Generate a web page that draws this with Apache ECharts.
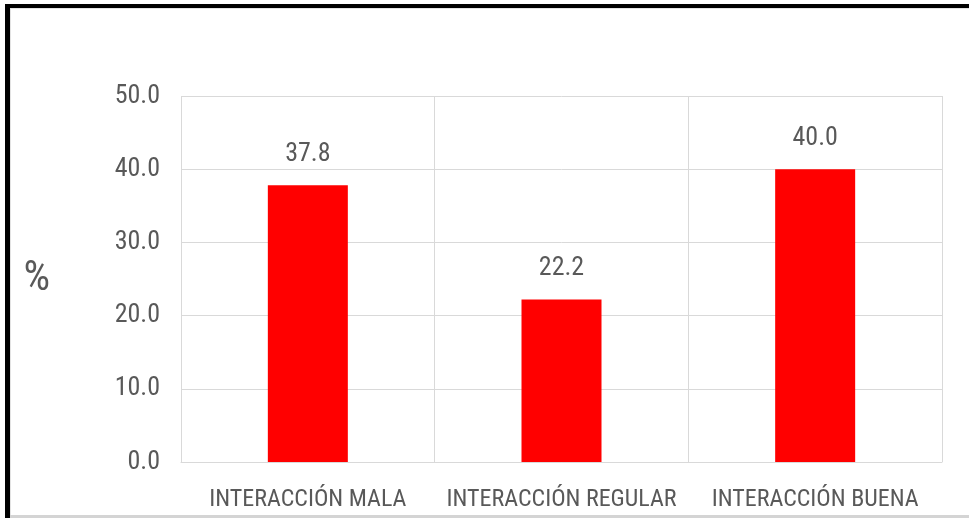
<!DOCTYPE html>
<html>
<head>
<meta charset="utf-8">
<script src="https://cdn.jsdelivr.net/npm/echarts@6/dist/echarts.min.js"></script>
<style>
    html, body { margin: 0; padding: 0; background: #fff; }
    #chart { width: 969px; height: 520px; }
</style>
</head>
<body>
<div id="chart"></div>
<script>
var categorias = ['INTERACCIÓN MALA', 'INTERACCIÓN REGULAR', 'INTERACCIÓN BUENA']; //categorias
var porcentajes = [37.8, 22.2, 40.0]; //valores %
var yMin = 0, yMax = 50, yPaso = 10; //eje y

var fuente = '"Liberation Sans Narrow", "Roboto Condensed", "Liberation Sans", sans-serif';
var gris = '#595959';
var rejilla = '#d9d9d9';

var myChart = echarts.init(document.getElementById('chart'));

var option = {
    backgroundColor: '#fff',
    animation: false,
    grid: {
        left: 181,
        right: 27,
        top: 96,
        bottom: 58
    },
    //marco de la imagen
    graphic: [
        { type: 'rect', shape: { x: 10, y: 8, width: 959, height: 1 }, style: { fill: '#e3e3e3' } },
        { type: 'rect', shape: { x: 10, y: 8, width: 1, height: 507 }, style: { fill: '#e3e3e3' } },
        { type: 'rect', shape: { x: 5, y: 4, width: 964, height: 4 }, style: { fill: '#000' } },
        { type: 'rect', shape: { x: 5, y: 4, width: 5, height: 514 }, style: { fill: '#000' } },
        { type: 'rect', shape: { x: 10, y: 515, width: 959, height: 3 }, style: { fill: '#d4d4d4' } }
    ],
    xAxis: {
        type: 'category',
        data: categorias,
        axisLine: { lineStyle: { color: rejilla, width: 1 } },
        axisTick: { show: false },
        splitLine: { show: true, lineStyle: { color: rejilla, width: 1 } },
        axisLabel: {
            color: gris,
            fontFamily: fuente,
            fontSize: 24,
            margin: 26,
            interval: 0
        }
    },
    yAxis: {
        type: 'value',
        min: yMin,
        max: yMax,
        interval: yPaso,
        name: '%',
        nameLocation: 'middle',
        nameRotate: 0,
        nameGap: 131,
        nameTextStyle: {
            color: gris,
            fontFamily: fuente,
            fontSize: 42,
            padding: [0, 0, 20, 0]
        },
        axisLine: { show: false },
        axisTick: { show: false },
        splitLine: { lineStyle: { color: rejilla, width: 1 } },
        axisLabel: {
            color: gris,
            fontFamily: fuente,
            fontSize: 26,
            margin: 21,
            formatter: function (v) { return v.toFixed(1); }
        }
    },
    series: [{
        type: 'bar',
        data: porcentajes,
        barWidth: 80,
        itemStyle: { color: '#ff0000' },
        label: {
            show: true,
            position: 'top',
            distance: 18,
            color: gris,
            fontFamily: fuente,
            fontSize: 26,
            formatter: function (p) { return p.value.toFixed(1); }
        }
    }]
};

myChart.setOption(option);
</script>
</body>
</html>
